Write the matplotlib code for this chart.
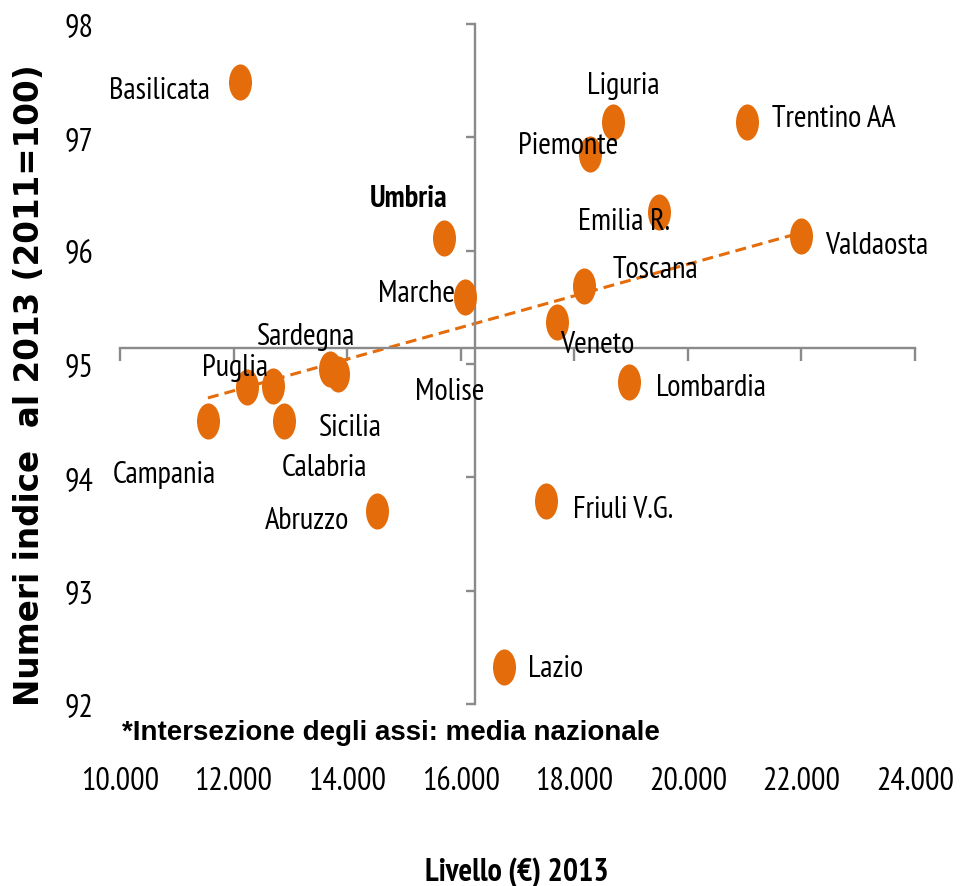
import numpy as np
import matplotlib.pyplot as plt
from matplotlib.path import Path

# regional data: income level 2013 (EUR) and index 2013 (2011=100)
regioni = ["Basilicata", "Umbria", "Marche", "Sardegna", "Molise", "Puglia",
           "Calabria", "Campania", "Sicilia", "Abruzzo", "Liguria", "Piemonte",
           "Trentino AA", "Emilia R.", "Valdaosta", "Toscana", "Veneto",
           "Lombardia", "Friuli V.G.", "Lazio"]
livello = [12112, 15703, 16073, 13697, 13837, 12236,
           12693, 11549, 12887, 14524, 18678, 18273,
           21037, 19488, 21987, 18168, 17692,
           18960, 17499, 16759]
indice = [97.49, 96.11, 95.59, 94.96, 94.91, 94.80,
          94.81, 94.50, 94.50, 93.70, 97.135, 96.85,
          97.135, 96.34, 96.13, 95.69, 95.37,
          94.84, 93.79, 92.33]

media_livello = 16254
media_indice = 95.14

x_ticks = [10000, 12000, 14000, 16000, 18000, 20000, 22000, 24000]
y_ticks = [92, 93, 94, 95, 96, 97, 98]

# label placement: offset from the marker in pixels (dx right, dy up) and alignment
etichette = {
    "Basilicata": (-30, -16, "right"),
    "Umbria": (-35, 32, "center"),
    "Marche": (-10, -4, "right"),
    "Sardegna": (-24, 25, "center"),
    "Molise": (77, -25, "left"),
    "Puglia": (-12, 12, "center"),
    "Calabria": (9, -89, "left"),
    "Campania": (-44, -61, "center"),
    "Sicilia": (35, -14, "left"),
    "Abruzzo": (-28, -17, "right"),
    "Liguria": (11, 29, "center"),
    "Piemonte": (-22, 1, "center"),
    "Trentino AA": (25, -4, "left"),
    "Emilia R.": (-35, -17, "center"),
    "Valdaosta": (24, -17, "left"),
    "Toscana": (29, 9, "left"),
    "Veneto": (3, -30, "left"),
    "Lombardia": (27, -13, "left"),
    "Friuli V.G.": (27, -16, "left"),
    "Lazio": (24, -9, "left"),
}

ARANCIO = "#E46C0A"
GRIGIO = "#8A8A8A"
NARROW = ["PT Sans Narrow", "Carlito", "DejaVu Sans"]
PX = 0.72  # points per pixel at dpi 100

fig = plt.figure(figsize=(9.61, 8.87), dpi=100)
ax = fig.add_axes([120 / 961, 1 - 705 / 887, 795 / 961, 680 / 887])
ax.set_xlim(10000, 24000)
ax.set_ylim(92, 98)

# axes crossing at the national average
ax.spines["left"].set_position(("data", media_livello))
ax.spines["bottom"].set_position(("data", media_indice))
for s in ("top", "right"):
    ax.spines[s].set_visible(False)
for s in ("left", "bottom"):
    ax.spines[s].set_color(GRIGIO)
    ax.spines[s].set_linewidth(1.7)
ax.set_xticks(x_ticks)
ax.set_yticks(y_ticks)
ax.tick_params(axis="x", direction="out", length=9.4, width=1.7, color=GRIGIO,
               labelbottom=False)
ax.tick_params(axis="y", direction="out", length=6.5, width=1.7, color=GRIGIO,
               labelleft=False)

# tick labels kept on the outer edges
sx = ax.secondary_xaxis("bottom")
sx.spines["bottom"].set_visible(False)
sx.set_xticks(x_ticks)
sx.set_xticklabels([f"{v:,}".replace(",", ".") for v in x_ticks])
sx.tick_params(length=0, pad=45)
sy = ax.secondary_yaxis("left")
sy.spines["left"].set_visible(False)
sy.set_yticks(y_ticks)
sy.set_yticklabels([str(v) for v in y_ticks])
sy.tick_params(length=0, pad=19)
for lab in sx.get_xticklabels() + sy.get_yticklabels():
    lab.set_family(NARROW)
    lab.set_fontsize(23)

# linear trend
coef = np.polyfit(livello, indice, 1)
xt = np.array([min(livello), max(livello)])
ax.plot(xt, np.polyval(coef, xt), color=ARANCIO, lw=2.2,
        linestyle=(0, (3.6, 2.0)), zorder=2)

# tall elliptical markers
cerchio = Path.unit_circle()
ellisse = Path(cerchio.vertices * [1, 1.57], cerchio.codes)
ax.plot(livello, indice, linestyle="none", marker=ellisse, markersize=26,
        color=ARANCIO, markeredgewidth=0, zorder=3)

for nome, x, y in zip(regioni, livello, indice):
    dx, dy, ha = etichette[nome]
    ax.annotate(nome, (x, y), xytext=(dx * PX, dy * PX), textcoords="offset points",
                ha=ha, va="baseline", fontsize=22, family=NARROW,
                fontweight="bold" if nome == "Umbria" else "normal",
                color="black", zorder=4, annotation_clip=False)

fig.text(122 / 961, 1 - 740 / 887, "*Intersezione degli assi: media nazionale",
         fontsize=20, fontweight="bold", family="Liberation Sans", va="baseline")
fig.text(517 / 961, 1 - 881 / 887, "Livello (€) 2013", fontsize=23,
         fontweight="bold", family=NARROW, ha="center", va="baseline")
fig.text(30 / 961, 1 - 385 / 887, "Numeri indice  al 2013 (2011=100)",
         fontsize=23.5, fontweight="bold", family="DejaVu Sans", rotation=90,
         ha="center", va="center")

fig.savefig("out.png", dpi=100)
